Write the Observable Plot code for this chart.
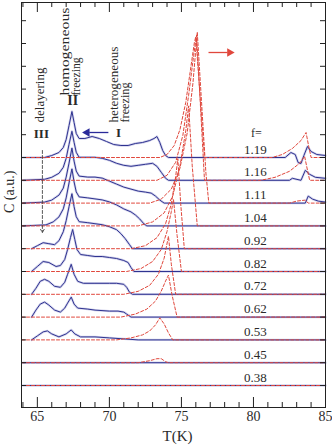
<!DOCTYPE html>
<html><head><meta charset="utf-8">
<script src="https://cdn.jsdelivr.net/npm/d3@7"></script>
<script src="https://cdn.jsdelivr.net/npm/@observablehq/plot@0.6"></script>
<style>body{margin:0;background:#fff}</style>
</head><body><div id="chart"></div>
<script>
// filling fractions, bottom (index 0) to top
const fValues = ["0.38","0.45","0.53","0.62","0.72","0.82","0.92","1.04","1.11","1.16","1.19"];
const offsetStep = 22.8; // vertical shift between stacked curves (a.u.)

// blue solid curves: [T (K), C (a.u.)]
const blue038 = [[64.0,0],[85,0]];
const blue045 = [[64.0,0],[85,0]];
const blue053 = [[64.6,0],[65.0,4],[65.4,8],[65.7,9],[66.0,6],[66.5,3],[67.0,6],[67.35,10],[67.6,6],[68.0,3],[69.0,3],[70.0,2],[71.0,1],[72.0,0],[85,0]];
const blue062 = [[64.6,0],[64.9,7],[65.2,13],[65.5,15],[65.8,12],[66.2,7],[66.6,5],[66.9,9],[67.1,14],[67.35,20],[67.55,13],[67.8,9],[68.5,8],[69.0,7],[70.0,6],[70.6,6],[71.0,5],[71.2,3],[71.5,0],[85,0]];
const blue072 = [[64.6,0],[64.9,6],[65.2,13],[65.5,15],[65.8,13],[66.2,8],[66.6,7],[66.9,12],[67.1,20],[67.35,30],[67.55,20],[67.8,13],[68.2,11],[69.0,11],[70.0,11],[70.5,11],[71.0,10],[71.2,7],[71.4,2],[71.6,0],[85,0]];
const blue082 = [[64.6,0],[65.0,5],[65.4,10],[65.8,9],[66.3,5],[66.6,6],[66.9,12],[67.1,22],[67.3,34],[67.45,42],[67.6,32],[67.75,22],[68.0,17],[68.5,16],[69.0,15],[69.5,15],[70.0,14],[70.5,13],[71.0,11],[71.3,9],[71.5,4],[71.7,0],[85,0]];
const blue092 = [[64.6,0],[65.0,3],[65.4,6],[65.8,5],[66.2,4],[66.5,8],[66.8,17],[67.0,28],[67.2,42],[67.4,55],[67.55,42],[67.7,32],[67.9,27],[68.5,26],[69.0,25],[69.5,24],[70.0,22],[70.5,19],[70.8,15],[71.1,10],[71.4,4],[71.6,0],[85,0]];
const blue104 = [[64.0,0],[65.6,1],[66.1,4],[66.5,9],[66.8,17],[67.0,28],[67.2,43],[67.4,57],[67.55,44],[67.7,34],[67.9,29],[68.5,28],[69.0,27],[69.5,26],[70.0,24],[70.5,21],[71.0,17],[71.5,14],[71.8,11],[72.1,7],[72.4,2],[72.6,0],[85,0]];
const blue111 = [[64.0,0],[65.5,1],[66.0,3],[66.5,8],[66.8,15],[67.0,26],[67.2,40],[67.4,55],[67.55,42],[67.7,32],[67.9,27],[68.5,26],[69.0,26],[69.5,25],[70.0,22],[70.5,19],[71.0,16],[71.5,14],[72.0,12],[72.5,11],[72.9,10],[73.2,7],[73.5,3],[73.8,0],[83.6,0],[83.8,7],[84.1,4],[84.5,2],[85.0,1]];
const blue116 = [[64.0,0],[65.5,1],[66.0,3],[66.5,7],[66.8,13],[67.0,22],[67.2,36],[67.4,49],[67.55,38],[67.7,28],[67.9,23],[68.4,23],[69.0,23],[69.5,22],[70.0,20],[70.5,17],[71.0,15],[71.5,14],[72.0,15],[72.5,16],[73.0,17],[73.3,14],[73.6,8],[73.9,2],[74.1,0],[82.5,0],[82.7,2],[83.3,0],[83.6,10],[83.9,6],[84.3,3],[85.0,2]];
const blue119 = [[64.0,0],[65.5,0],[66.0,2],[66.5,5],[66.8,10],[67.0,18],[67.2,32],[67.4,46],[67.55,35],[67.7,24],[67.9,19],[68.3,19],[68.8,21],[69.3,19],[69.8,16],[70.3,13],[70.8,12],[71.3,12],[71.8,14],[72.3,15],[72.8,17],[73.1,19],[73.3,21],[73.5,15],[73.7,7],[73.9,2],[74.1,0],[82.2,0],[82.6,5],[82.9,3],[83.1,-5],[83.3,-6],[83.5,2],[83.75,11],[84.0,6],[84.4,3],[85.0,2]];

// red dashed curves: [T (K), C (a.u.)]
const red038 = [[63.9,0],[85,0]];
const red045 = [[63.9,0],[72.0,0],[72.8,2],[73.3,4],[73.6,4],[73.9,1],[74.1,0],[85,0]];
const red053 = [[63.9,0],[70.5,0],[71.5,2],[72.3,5],[72.8,9],[73.2,15],[73.5,22],[73.8,16],[74.1,7],[74.4,0],[85,0]];
const red062 = [[63.9,0],[70.8,0],[71.8,3],[72.6,8],[73.2,16],[73.6,26],[73.9,36],[74.1,42],[74.35,22],[74.7,0],[85,0]];
const red072 = [[63.9,0],[71.0,0],[72.0,3],[72.8,9],[73.4,20],[73.8,36],[74.1,58],[74.3,30],[74.6,0],[85,0]];
const red082 = [[63.9,0],[71.2,0],[72.2,3],[73.0,10],[73.6,22],[74.0,40],[74.3,60],[74.45,72],[74.7,36],[75.0,0],[85,0]];
const red092 = [[63.9,0],[71.5,0],[72.5,3],[73.3,11],[73.9,25],[74.3,45],[74.6,72],[74.75,90],[74.95,45],[75.2,0],[85,0]];
const red104 = [[63.9,0],[72.0,0],[73.0,4],[73.8,13],[74.4,30],[74.9,60],[75.3,95],[75.5,120],[75.75,60],[76.1,0],[85,0]];
const red111 = [[63.9,0],[72.8,0],[73.6,4],[74.3,14],[74.9,35],[75.4,70],[75.8,120],[76.1,171],[76.4,100],[76.7,30],[76.9,0],[82.5,0],[83.0,2],[83.6,3],[83.8,0],[85,0]];
const red116 = [[63.9,0],[73.3,0],[74.0,5],[74.6,18],[75.1,45],[75.5,85],[75.85,125],[76.05,145],[76.3,80],[76.6,0],[80.5,0],[81.5,3],[82.5,9],[83.2,17],[83.55,24],[83.75,10],[83.9,0],[85,0]];
const red119 = [[63.9,0],[73.5,0],[74.0,3],[74.5,12],[74.9,28],[75.3,55],[75.6,85],[75.9,115],[76.0,121],[76.2,80],[76.6,0],[81.3,0],[82.0,3],[82.7,9],[83.3,17],[83.65,25],[83.85,10],[84.0,0],[85,0]];

const blueSeries = [blue038,blue045,blue053,blue062,blue072,blue082,blue092,blue104,blue111,blue116,blue119];
const redSeries = [red038,red045,red053,red062,red072,red082,red092,red104,red111,red116,red119];

const xMajor = [65,70,75,80,85];
const xMinor = [64,66,67,68,69,71,72,73,74,76,77,78,79,81,82,83,84];
const yTicks = d3.range(0,17).map(k => k*offsetStep);

function stack(series){
  const out = [];
  series.forEach((pts,k)=>pts.forEach(([T,c])=>out.push({T, C: c + k*offsetStep, f: fValues[k]})));
  return out;
}
const blueData = stack(blueSeries);
const redData = stack(redSeries);
const labelData = fValues.map((f,k)=>({f, y: k*offsetStep + 8}));

const serif = "'Liberation Serif','DejaVu Serif',serif";
const W = 304, H = 405;
const navy = "#2f3390";
const red = "#e0473c";

const chart = Plot.plot({
  width: 332, height: 448,
  marginLeft: 21, marginRight: 7, marginTop: 2, marginBottom: 41,
  x: {domain: [63.9, 85], axis: null},
  y: {domain: [-22, 383], axis: null},
  style: {fontFamily: serif, background: "white", color: "#2a2a2a"},
  marks: [
    Plot.lineY(blueData, {x: "T", y: "C", z: "f", stroke: "#aeaedc", strokeWidth: 2.4, strokeOpacity: 0.55}),
    Plot.lineY(blueData, {x: "T", y: "C", z: "f", stroke: navy, strokeWidth: 1}),
    Plot.lineY(redData, {x: "T", y: "C", z: "f", stroke: red, strokeWidth: 1, strokeDasharray: "3,2"}),
    Plot.frame({stroke: "#222", strokeWidth: 1}),
    Plot.tickX(xMajor, {x: d => d, insetTop: H - 10, stroke: "#222"}),
    Plot.tickX(xMinor, {x: d => d, insetTop: H - 5, stroke: "#222"}),
    Plot.tickX(xMajor, {x: d => d, insetBottom: H - 10, stroke: "#222"}),
    Plot.tickX(xMinor, {x: d => d, insetBottom: H - 5, stroke: "#222"}),
    Plot.tickY(yTicks, {y: d => d, insetRight: W - 5, stroke: "#222"}),
    Plot.tickY(yTicks, {y: d => d, insetLeft: W - 5, stroke: "#222"}),
    Plot.axisX({ticks: xMajor, tickSize: 0, tickPadding: 4, fontSize: 14, label: null, tickFormat: d => String(d)}),
    Plot.text(["T(K)"], {frameAnchor: "bottom", dx: 4, dy: 33, fontSize: 15}),
    Plot.text(["C (a.u.)"], {frameAnchor: "left", dx: -12, dy: 8, rotate: -90, fontSize: 14}),
    Plot.text(labelData, {x: 80.14, y: "y", text: "f", fontSize: 13}),
    Plot.text(["f="], {x: 80.2, y: 252, fontSize: 12}),
    // annotations
    Plot.text(["delayering"], {x: 65.21, y: 263, rotate: -90, textAnchor: "start", fontSize: 12.5}),
    Plot.text(["III"], {x: 65.28, y: 252, fontSize: 13, fontWeight: "bold"}),
    Plot.text(["homogeneous"], {x: 66.94, y: 290, rotate: -90, textAnchor: "start", fontSize: 13}),
    Plot.text(["freezing"], {x: 67.66, y: 290, rotate: -90, textAnchor: "start", fontSize: 13}),
    Plot.text(["II"], {x: 67.45, y: 285, fontSize: 14, fontWeight: "bold"}),
    Plot.text(["heterogeneous"], {x: 70.28, y: 263, rotate: -90, textAnchor: "start", fontSize: 13}),
    Plot.text(["freezing"], {x: 71.04, y: 263, rotate: -90, textAnchor: "start", fontSize: 13}),
    Plot.text(["I"], {x: 70.63, y: 253, fontSize: 13, fontWeight: "bold"}),
    Plot.link([0], {x1: 69.93, x2: 68.6, y1: 253, y2: 253, stroke: "#2a2a9a", strokeWidth: 1.3}),
    Plot.dot([0], {x: 68.45, y: 253, symbol: "triangle", rotate: -90, r: 3.2, fill: "#2a2a9a", stroke: "none"}),
    Plot.link([0], {x1: 76.88, x2: 78.2, y1: 333, y2: 333, stroke: red, strokeWidth: 1.3}),
    Plot.dot([0], {x: 78.35, y: 333, symbol: "triangle", rotate: 90, r: 3.2, fill: red, stroke: "none"}),
    Plot.arrow([0], {x1: 65.35, y1: 235, x2: 65.35, y2: 153, stroke: "#444", strokeWidth: 0.9, strokeDasharray: "3,2", headLength: 6})
  ]
});
// stretch the rotated annotation labels to the lengths seen in the reference
const lengths = {"homogeneous": 88, "heterogeneous": 76, "delayering": 55};
let fz = 0;
d3.select(chart).selectAll("text").each(function(){
  const t = this.textContent;
  if (lengths[t]) { this.setAttribute("textLength", lengths[t]); this.setAttribute("lengthAdjust", "spacingAndGlyphs"); }
  if (t === "freezing") { this.setAttribute("textLength", fz++ === 0 ? 38 : 40); this.setAttribute("lengthAdjust", "spacingAndGlyphs"); }
});
document.getElementById("chart").appendChild(chart);
</script></body></html>
